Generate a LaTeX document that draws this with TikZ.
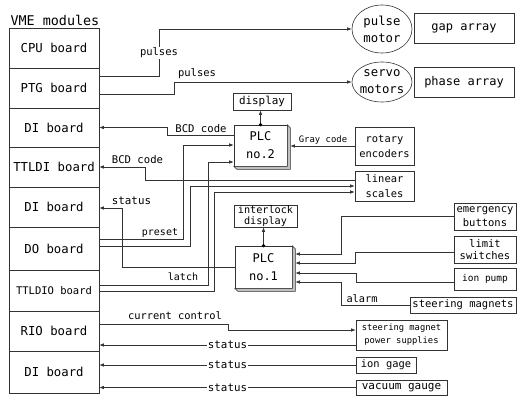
\documentclass[tikz,border=0pt]{standalone}
\usepackage{fontspec}
\setmainfont{DejaVu Sans Mono}
\usetikzlibrary{arrows.meta,shapes.geometric,calc}
\begin{document}
\begin{tikzpicture}[x=1pt,y=-1pt,
  ln/.style={line width=0.6pt, draw=black!80},
  arr/.style={ln,-{Latex[length=4.5pt,width=3.5pt]}},
  bx/.style 2 args={draw=black!80,line width=0.6pt,rectangle,minimum width=#1pt,minimum height=#2pt,inner sep=0pt,align=center},
  ell/.style 2 args={draw=black!80,line width=0.6pt,ellipse,minimum width=#1pt,minimum height=#2pt,inner sep=0pt},
  fz/.style 2 args={font=\fontsize{#1}{#2}\selectfont},
  lb/.style={inner sep=0.5pt},
  shad/.style={fill=black!25,draw=black!80,line width=0.5pt}]
\useasboundingbox (0,0) rectangle (517,396);

% left column
\node[anchor=west,fz={13.4}{15}] (vme) at (7,20) {VME modules};
\node[bx={90}{40},fz={12.3}{14}] (cpu) at (54,48) {CPU board};
\node[bx={90}{40},fz={12.3}{14}] (ptg) at (54,88) {PTG board};
\node[bx={90}{39},fz={12.3}{14}] (di1) at (54,127.5) {DI board};
\node[bx={90}{40},fz={12.3}{14}] (ttldi) at (54,167) {TTLDI board};
\node[bx={90}{40},fz={12.3}{14}] (di2) at (54,207) {DI board};
\node[bx={90}{43},fz={12.3}{14}] (do) at (54,248.5) {DO board};
\node[bx={90}{41},fz={10.5}{12}] (ttldio) at (54,290.5) {TTLDIO board};
\node[bx={90}{40},fz={12.3}{14}] (rio) at (54,331) {RIO board};
\node[bx={90}{42},fz={12.3}{14}] (di3) at (54,372) {DI board};

% motors
\node[ell={60}{48}] (pm) at (382,29) {};
\node[fz={12.3}{17},align=center] (pmt) at (pm) {pulse\\motor};
\node[ell={60}{40}] (sm) at (382,82) {};
\node[fz={12.3}{17},align=center] (smt) at (sm) {servo\\motors};
\node[bx={100}{30},fz={12}{14}] (gap) at (464,28) {gap array};
\node[bx={100}{30},fz={12}{14}] (phase) at (464,82) {phase array};

% PLC 2 group
\node[bx={58}{17},fz={10.9}{12}] (disp) at (262,101.5) {display};
\node[bx={53}{41},fz={12}{18}] (plc2) at (260.5,145.5) {PLC\\no.2};
\filldraw[shad] (plc2.south west) -- ++(3,3) -| ($(plc2.north east)+(3,3)$) -- (plc2.north east) -- (plc2.south east) -- cycle;
\coordinate (p2e) at ($(plc2.east)+(3,0)$);
\node[bx={59}{38},fz={10.4}{15}] (rot) at (384.5,146) {rotary\\encoders};
\node[bx={59}{30},fz={10.4}{15}] (lin) at (384.5,186) {linear\\scales};

% PLC 1 group
\node[bx={63}{22},fz={10.2}{10.5}] (il) at (265.5,216) {interlock\\display};
\node[bx={57}{42},fz={12}{18}] (plc1) at (263.5,267) {PLC\\no.1};
\filldraw[shad] (plc1.south west) -- ++(3,3) -| ($(plc1.north east)+(3,3)$) -- (plc1.north east) -- (plc1.south east) -- cycle;
\coordinate (p1e) at ($(plc1.east)+(3,0)$);
\node[bx={62}{27},fz={10.5}{14}] (em) at (485,216.5) {emergency\\buttons};
\node[bx={62}{27},fz={10.5}{12}] (lim) at (485,249.5) {limit\\switches};
\node[bx={62}{22},fz={9.5}{11}] (ionp) at (485,279) {ion pump};
\node[bx={106}{16},fz={10.5}{12}] (stm) at (463,305) {steering magnets};

% bottom right
\node[bx={91}{30},fz={8.8}{13}] (ps) at (401.5,335) {steering magnet\\power supplies};
\node[bx={60}{16},fz={10.4}{12}] (gage) at (386,365) {ion gage};
\node[bx={91}{15},fz={11}{12}] (vac) at (401.5,387.5) {vacuum gauge};

% connectors: pulses
\draw[arr] (ptg.east |- 0,76) -- (159,76) |- (pm.west);
\node[lb,fill=white,fz={10.5}{12}] at (159,53) {pulses};
\draw[arr] (ptg.east |- 0,94) -- (174,94) |- (sm.west);
\node[lb,fz={10.5}{12}] at (197,74) {pulses};

% displays
\draw[arr] (plc2.north) -- (plc2.north |- disp.south);
\fill (plc2.north) circle (1.8pt);
\draw[arr] (plc1.north) -- (plc1.north |- il.south);
\fill (plc1.north) circle (1.8pt);

% PLC2 connections
\draw[arr] (plc2.west |- 0,135) -- (167,135) |- (di1.east);
\node[lb,fz={10.6}{12}] at (201,129) {BCD code};
\draw[arr] (rot.west) -- (rot.west -| p2e);
\node[lb,fz={8.9}{10}] at (323,140) {Gray code};
\draw[arr] (lin.west |- 0,180) -- (145,180) |- (ttldi.east);
\node[lb,fz={10.6}{12}] at (137.5,160) {BCD code};
\draw[arr] (do.east |- 0,239) -- (183,239) |- (plc2.west |- 0,145);
\node[lb,fz={10}{12}] at (160,233) {preset};
\draw[arr] (do.east |- 0,246) -- (190,246) |- (lin.west |- 0,186);
\draw[arr] (ttldio.east |- 0,285) -- (208,285) |- (plc2.west |- 0,162);
\node[lb,fz={10}{12}] at (183,277) {latch};
\draw[arr] (ttldio.east |- 0,291) -- (214,291) |- (lin.west |- 0,192);

% PLC1 connections
\draw[arr] (plc1.west |- 0,267) -- (122,267) |- (di2.east |- 0,208);
\node[lb,fz={10.8}{12}] at (131.5,201) {status};
\draw[arr] (em.west) -- (341,216.5) |- (p1e |- 0,254);
\draw[arr] (lim.west |- 0,252) -- (355,252) |- (p1e |- 0,263);
\draw[arr] (ionp.west |- 0,282) -- (356,282) |- (p1e |- 0,273);
\draw[arr] (stm.west) -- (341,305) |- (p1e |- 0,282);
\node[lb,fz={10.3}{12}] at (362,299) {alarm};

% bottom
\draw[arr] (rio.east |- 0,324) -- (228,324) |- (ps.west |- 0,330);
\node[lb,fz={10.4}{12}] at (175,316) {current control};
\draw[arr] (ps.west |- 0,345) -- (rio.east |- 0,345);
\node[lb,fill=white,fz={10.8}{12}] at (227.5,345) {status};
\draw[arr] (gage.west) -- (di3.east |- gage.west);
\node[lb,fill=white,fz={10.8}{12}] at (227.5,365) {status};
\draw[arr] (vac.west) -- (di3.east |- vac.west);
\node[lb,fill=white,fz={10.8}{12}] at (227.5,387.5) {status};
\end{tikzpicture}
\end{document}
